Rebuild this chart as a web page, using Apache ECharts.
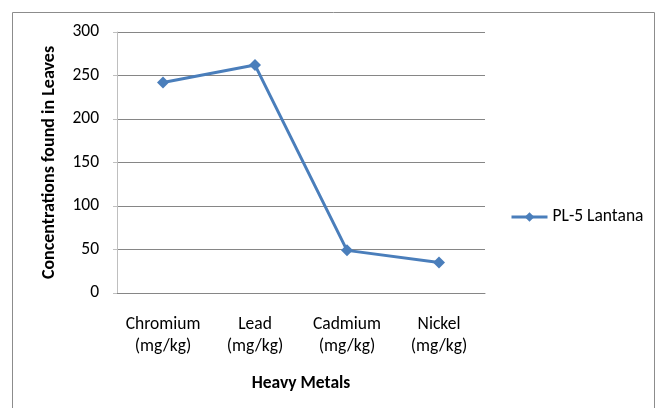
<!DOCTYPE html>
<html><head><meta charset="utf-8">
<script src="https://cdn.jsdelivr.net/npm/echarts@6/dist/echarts.min.js"></script>
<style>html,body{margin:0;padding:0;background:#fff}#c{width:664px;height:408px}</style>
</head><body><div id="c"></div>
<script>
const categories = ['Chromium\n(mg/kg)', 'Lead\n(mg/kg)', 'Cadmium\n(mg/kg)', 'Nickel\n(mg/kg)'];
const seriesName = 'PL-5 Lantana';
const values = [242, 262, 49, 35];
const yTicks = { min: 0, max: 300, interval: 50 };
const xTitle = 'Heavy Metals';
const yTitle = 'Concentrations found in Leaves';

const font = 'Carlito, "Open Sans", "Noto Sans", sans-serif';
const chart = echarts.init(document.getElementById('c'), null, {renderer: 'canvas'});
chart.setOption({
  animation: false,
  backgroundColor: '#fff',
  graphic: [{
    type: 'rect', shape: {x: 12.5, y: 12.5, width: 642, height: 420},
    style: {fill: 'none', stroke: '#8c8c8c', lineWidth: 1}, silent: true
  }],
  grid: {left: 117, right: 179, top: 32, bottom: 115, containLabel: false},
  legend: {
    left: 505, top: 203, itemWidth: 36, itemHeight: 12, itemGap: 6,
    data: [{name: seriesName}],
    lineStyle: {width: 3},
    textStyle: {fontFamily: font, fontSize: 17.5, color: '#000'}
  },
  xAxis: {
    type: 'category', data: categories, boundaryGap: true,
    name: xTitle, nameLocation: 'middle', nameGap: 82,
    nameTextStyle: {fontFamily: font, fontSize: 17.5, fontWeight: 'bold', color: '#000'},
    axisLine: {lineStyle: {color: '#868686', width: 1}},
    axisTick: {show: false},
    axisLabel: {fontFamily: font, fontSize: 17.5, color: '#000', margin: 21, lineHeight: 22, interval: 0, hideOverlap: false}
  },
  yAxis: {
    type: 'value', min: yTicks.min, max: yTicks.max, interval: yTicks.interval,
    name: yTitle, nameLocation: 'middle', nameGap: 59, nameRotate: 90,
    nameTextStyle: {fontFamily: font, fontSize: 18, fontWeight: 'bold', color: '#000'},
    axisLine: {show: true, lineStyle: {color: '#bfbfbf', width: 1}},
    axisTick: {show: true, length: 4, lineStyle: {color: '#bfbfbf'}},
    axisLabel: {fontFamily: font, fontSize: 17.5, color: '#000', margin: 18},
    splitLine: {lineStyle: {color: '#868686', width: 1}}
  },
  series: [{
    name: seriesName, type: 'line', data: values,
    symbol: 'diamond', symbolSize: 12,
    lineStyle: {color: '#4a7ebb', width: 3},
    itemStyle: {color: '#4a7ebb'}
  }]
});
</script></body></html>
